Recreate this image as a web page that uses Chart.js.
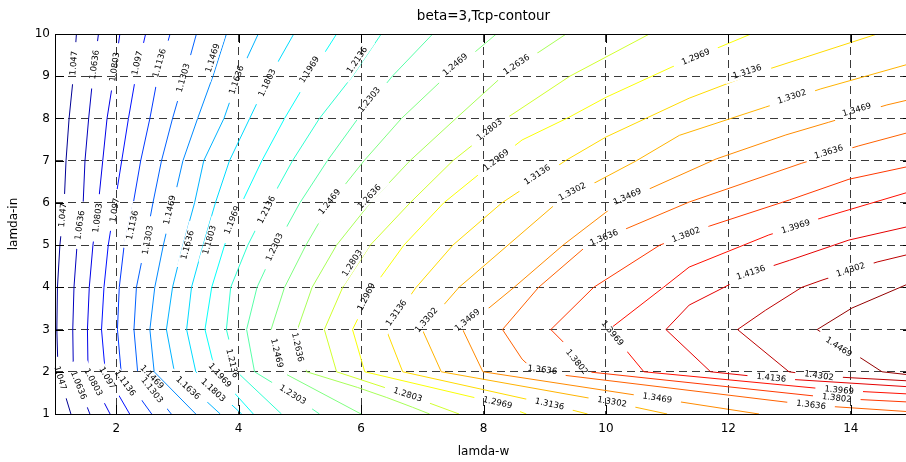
<!DOCTYPE html>
<html>
<head>
<meta charset="utf-8">
<title>beta=3,Tcp-contour</title>
<script src="https://cdn.jsdelivr.net/npm/chart.js@4.4.0/dist/chart.umd.min.js"></script>
<style>
  html, body { margin: 0; padding: 0; background: #fff; overflow: hidden; }
  #wrap { position: absolute; left: 0; top: 0; width: 919px; height: 462px; }
</style>
</head>
<body>
<div id="wrap"><canvas id="tcpChart" width="919" height="462"></canvas></div>
<script>
// ---------------------------------------------------------------
// data (lamda-w, lamda-in)
// ---------------------------------------------------------------
const xTicks = [2, 4, 6, 8, 10, 12, 14];
const yTicks = [1, 2, 3, 4, 5, 6, 7, 8, 9, 10];

const levels = [
  "1.047", "1.0636", "1.0803", "1.097", "1.1136", "1.1303", "1.1469", "1.1636",
  "1.1803", "1.1969", "1.2136", "1.2303", "1.2469", "1.2636", "1.2803", "1.2969",
  "1.3136", "1.3302", "1.3469", "1.3636", "1.3802", "1.3969", "1.4136", "1.4302", "1.4469"
];

// one polyline per level, [lamda-w, lamda-in]
const contourLines = [
  [[1.35,10],[1.30,9],[1.23,8],[1.18,7],[1.15,6],[1.08,5],[1.04,4],[1.03,3],[1.05,2],[1.26,1]],
  [[1.71,10],[1.62,9],[1.55,8],[1.49,7],[1.46,6],[1.36,5],[1.31,4],[1.29,3],[1.30,2],[1.57,1]],
  [[2.06,10],[1.96,9],[1.85,8],[1.78,7],[1.71,6],[1.62,5],[1.56,4],[1.53,3],[1.54,2],[1.90,1]],
  [[2.48,10],[2.32,9],[2.20,8],[2.09,7],[1.98,6],[1.87,5],[1.80,4],[1.76,3],[1.82,2],[2.22,1]],
  [[2.88,10],[2.68,9],[2.55,8],[2.40,7],[2.28,6],[2.13,5],[2.05,4],[2.02,3],[2.08,2],[2.58,1]],
  [[3.31,10],[3.12,9],[2.92,8],[2.74,7],[2.60,6],[2.47,5],[2.33,4],[2.29,3],[2.35,2],[2.90,1]],
  [[3.80,10],[3.58,9],[3.33,8],[3.09,7],[2.93,6],[2.77,5],[2.63,4],[2.55,3],[2.62,2],[3.30,1]],
  [[4.32,10],[4.00,9],[3.76,8],[3.43,7],[3.28,6],[3.09,5],[2.92,4],[2.82,3],[2.95,2],[3.70,1]],
  [[4.90,10],[4.51,9],[4.18,8],[3.85,7],[3.62,6],[3.42,5],[3.23,4],[3.15,3],[3.30,2],[4.05,1]],
  [[5.60,10],[5.16,9],[4.75,8],[4.38,7],[4.05,6],[3.77,5],[3.56,4],[3.45,3],[3.62,2],[4.24,1]],
  [[6.33,10],[5.86,9],[5.32,8],[4.88,7],[4.50,6],[4.15,5],[3.87,4],[3.80,3],[3.97,2],[4.70,1]],
  [[7.17,10],[6.51,9],[5.95,8],[5.45,7],[5.00,6],[4.62,5],[4.30,4],[4.13,3],[4.26,2],[4.88,1.45],[5.32,1]],
  [[8.21,10],[7.39,9],[6.66,8],[6.05,7],[5.50,6],[5.10,5],[4.75,4],[4.53,3],[4.70,2],[6.00,1]],
  [[9.35,10],[8.31,9],[7.55,8],[6.80,7],[6.15,6],[5.60,5],[5.20,4],[4.96,3],[5.11,2],[5.94,1.63],[6.42,1.39],[6.84,1.16],[7.12,1]],
  [[10.71,10],[9.41,9],[8.37,8],[7.50,7],[6.80,6],[6.15,5],[5.70,4],[5.40,3],[5.60,2],[6.76,1.45],[7.60,1]],
  [[12.37,10],[11.08,9.22],[10.0,8.5],[9.40,8.03],[8.63,7.49],[8.20,7],[7.35,6],[6.70,5],[6.20,4],[5.86,3],[6.06,2],[8.23,1.26],[8.70,1]],
  [[14.43,10],[12.30,9],[11.36,8.48],[10.0,7.56],[9.35,7.01],[8.30,6],[7.50,5],[6.90,4],[6.41,3],[6.68,2],[9.08,1.23],[9.70,1]],
  [[15,9.31],[13.51,8.70],[12.61,8.27],[11.20,7.60],[10.50,7.0],[9.20,6],[8.40,5],[7.60,4],[7.00,3],[7.31,2],[10.10,1.28],[11.0,1]],
  [[15,8.46],[14.59,8.32],[13.64,7.91],[12.94,7.61],[11.80,7.04],[10.20,6],[9.30,5],[8.50,4],[7.66,3],[7.99,2],[10.84,1.37],[12.50,1]],
  [[15,7.69],[14.13,7.35],[13.20,6.94],[11.36,6.02],[9.70,5],[8.90,4],[8.31,3],[8.63,2.3],[8.85,2],[13.35,1.21],[15,1.05]],
  [[15,6.88],[13.97,6.56],[13.0,6.07],[11.69,5.45],[10.88,5],[9.80,4],[9.10,3],[9.32,2.68],[9.70,2],[13.77,1.37],[15,1.28]],
  [[15,6.28],[13.56,5.66],[12.66,5.24],[11.36,4.48],[10.94,4],[10.05,3],[10.62,2],[13.81,1.56],[15,1.47]],
  [[15,5.46],[13.97,5.12],[13.0,4.64],[12.37,4.34],[11.93,4.0],[11.36,3.58],[10.98,3],[11.71,2],[12.70,1.85],[15,1.64]],
  [[15,4.80],[14.43,4.60],[13.53,4.17],[13.20,4.0],[12.61,3.46],[12.15,3],[12.99,2],[13.48,1.90],[15,1.78]],
  [[15,4.12],[14.02,3.51],[13.45,3],[14.51,2],[15,1.92]]
];

// where the level numbers sit: [level index, lamda-w, lamda-in]
const labelSpots = [
  [0,1.31,9.31],[1,1.65,9.27],[2,1.98,9.22],[3,2.35,9.31],[4,2.71,9.31],[5,3.10,8.96],
  [6,3.58,9.43],[7,3.97,8.91],[8,4.47,8.84],[9,5.16,9.15],[10,5.94,9.38],[11,6.14,8.44],
  [12,7.54,9.27],[13,8.54,9.27],[14,8.10,7.73],[15,8.21,7.01],[16,8.88,6.66],[17,9.45,6.26],
  [18,10.35,6.14],[19,9.97,5.17],[20,11.31,5.24],[21,13.10,5.43],[22,12.37,4.34],[23,14.0,4.41],
  [15,11.47,9.45],[16,12.31,9.10],[17,13.04,8.51],[18,14.10,8.20],[19,13.64,7.20],
  [0,1.13,5.71],[1,1.41,5.47],[2,1.70,5.64],[3,1.98,5.83],[4,2.27,5.47],[5,2.52,5.12],
  [6,2.88,5.83],[7,3.17,5.0],[8,3.53,5.12],[9,3.90,5.59],[10,4.46,5.83],[11,4.59,4.95],
  [12,5.49,6.02],[13,6.14,6.14],[14,5.86,4.57],[15,6.09,3.77],[16,6.58,3.39],[17,7.07,3.22],
  [18,7.74,3.22],[21,10.10,2.91],[24,13.8,2.58],
  [0,1.08,1.85],[1,1.38,1.68],[2,1.62,1.75],[3,1.85,1.85],[4,2.14,1.73],[5,2.58,1.56],
  [6,2.58,1.87],[7,3.17,1.61],[8,3.58,1.56],[9,3.69,1.91],[10,3.89,2.2],[11,4.88,1.45],
  [12,4.62,2.44],[13,4.96,2.58],[14,6.76,1.45],[15,8.23,1.26],[16,9.08,1.23],[17,10.1,1.28],
  [18,10.84,1.37],[19,8.96,2.04],[20,9.52,2.23],[22,12.70,1.85],[23,13.48,1.90],[21,13.81,1.56],
  [20,13.77,1.37],[19,13.35,1.21]
];

// ---------------------------------------------------------------
// styles
// ---------------------------------------------------------------
const FONT = "'DejaVu Sans', 'Liberation Sans', sans-serif";
const LABEL_FONT = "8.5px " + FONT;

function jet(t) {
  const c = v => Math.round(255 * Math.max(0, Math.min(1, v)));
  return `rgb(${c(1.5 - Math.abs(4 * t - 3))},${c(1.5 - Math.abs(4 * t - 2))},${c(1.5 - Math.abs(4 * t - 1))})`;
}
const levelColor = i => jet((i + 0.5) / levels.length);

// label boxes in pixels, angle taken from the nearest piece of its own line
function labelBoxes(chart) {
  const xs = chart.scales.x, ys = chart.scales.y, ctx = chart.ctx;
  ctx.save();
  ctx.font = LABEL_FONT;
  const out = labelSpots.map(([i, lx, ly]) => {
    const px = xs.getPixelForValue(lx), py = ys.getPixelForValue(ly);
    const pts = contourLines[i].map(([x, y]) => [xs.getPixelForValue(x), ys.getPixelForValue(y)]);
    let best = Infinity, ang = 0;
    for (let k = 0; k < pts.length - 1; k++) {
      const [x1, y1] = pts[k], [x2, y2] = pts[k + 1];
      const dx = x2 - x1, dy = y2 - y1;
      const len2 = dx * dx + dy * dy || 1;
      let t = ((px - x1) * dx + (py - y1) * dy) / len2;
      t = Math.max(0, Math.min(1, t));
      const d = Math.hypot(x1 + t * dx - px, y1 + t * dy - py);
      if (d < best) { best = d; ang = Math.atan2(dy, dx); }
    }
    if (ang > Math.PI / 2) ang -= Math.PI;
    if (ang <= -Math.PI / 2) ang += Math.PI;
    return { level: i, x: px, y: py, a: ang, w: ctx.measureText(levels[i]).width, h: 10, text: levels[i] };
  });
  ctx.restore();
  return out;
}

// gnuplot breaks each line where its own number is written
const contourLabels = {
  id: "contourLabels",
  beforeDatasetsDraw(chart) {
    chart.$boxes = labelBoxes(chart);
  },
  beforeDatasetDraw(chart, args) {
    const ctx = chart.ctx;
    ctx.save();
    ctx.beginPath();
    ctx.rect(0, 0, chart.width, chart.height);
    chart.$boxes.filter(b => b.level === args.index).forEach(b => {
      const c = Math.cos(b.a), s = Math.sin(b.a);
      const hw = b.w / 2 + 9, hh = b.h / 2;
      [[-hw, -hh], [hw, -hh], [hw, hh], [-hw, hh]].forEach(([u, v], k) => {
        const X = b.x + u * c - v * s, Y = b.y + u * s + v * c;
        k ? ctx.lineTo(X, Y) : ctx.moveTo(X, Y);
      });
      ctx.closePath();
    });
    ctx.clip("evenodd");
  },
  afterDatasetDraw(chart) {
    chart.ctx.restore();
  },
  afterDatasetsDraw(chart) {
    const ctx = chart.ctx;
    ctx.save();
    ctx.font = LABEL_FONT;
    ctx.fillStyle = "#000";
    ctx.textAlign = "center";
    ctx.textBaseline = "middle";
    chart.$boxes.forEach(b => {
      ctx.save();
      ctx.translate(b.x, b.y);
      ctx.rotate(b.a);
      ctx.fillText(b.text, 0, 0);
      ctx.restore();
    });
    ctx.restore();
  }
};

// gnuplot style frame with inward tick marks
const frame = {
  id: "frame",
  afterDraw(chart) {
    const { ctx, chartArea: a } = chart;
    const xs = chart.scales.x, ys = chart.scales.y;
    ctx.save();
    ctx.strokeStyle = "#000";
    ctx.lineWidth = 1;
    ctx.beginPath();
    ctx.rect(Math.round(a.left) + 0.5, Math.round(a.top) + 0.5, Math.round(a.right - a.left), Math.round(a.bottom - a.top));
    xTicks.forEach(v => {
      const x = Math.round(xs.getPixelForValue(v)) + 0.5;
      ctx.moveTo(x, a.bottom); ctx.lineTo(x, a.bottom - 9);
      ctx.moveTo(x, a.top); ctx.lineTo(x, a.top + 9);
    });
    yTicks.forEach(v => {
      const y = Math.round(ys.getPixelForValue(v)) + 0.5;
      ctx.moveTo(a.left, y); ctx.lineTo(a.left + 9, y);
      ctx.moveTo(a.right, y); ctx.lineTo(a.right - 9, y);
    });
    ctx.stroke();
    ctx.restore();
  }
};

// ---------------------------------------------------------------
// chart
// ---------------------------------------------------------------
const datasets = contourLines.map((line, i) => ({
  label: levels[i],
  data: line.map(([x, y]) => ({ x, y })),
  showLine: true,
  borderColor: levelColor(i),
  borderWidth: 1,
  pointRadius: 0,
  fill: false,
  tension: 0
}));

const tickFont = { family: FONT, size: 12 };

new Chart(document.getElementById("tcpChart"), {
  type: "scatter",
  data: { datasets },
  options: {
    responsive: false,
    animation: false,
    events: [],
    layout: { padding: { left: 0, right: 7, top: 0, bottom: 0 } },
    plugins: {
      legend: { display: false },
      tooltip: { enabled: false },
      title: {
        display: true,
        fullSize: false,
        text: "beta=3,Tcp-contour",
        color: "#000",
        font: { family: FONT, size: 13.5, weight: "normal" },
        padding: { top: 8.5, bottom: 9.3 }
      }
    },
    scales: {
      x: {
        type: "linear",
        min: 1,
        max: 15,
        afterBuildTicks: s => { s.ticks = xTicks.map(v => ({ value: v })); },
        afterFit: s => { s.height = 48; },
        grid: { color: "#3a3a3a", lineWidth: 1, drawTicks: false },
        border: { display: false, dash: [8, 5] },
        ticks: { color: "#000", font: tickFont, padding: 8, maxRotation: 0 },
        title: { display: true, text: "lamda-w", color: "#000", font: tickFont, padding: { top: 0, bottom: 3 } }
      },
      y: {
        type: "linear",
        min: 1,
        max: 10,
        afterBuildTicks: s => { s.ticks = yTicks.map(v => ({ value: v })); },
        afterFit: s => { s.width = 55; },
        grid: { color: "#3a3a3a", lineWidth: 1, drawTicks: false },
        border: { display: false, dash: [8, 5] },
        ticks: { color: "#000", font: tickFont, padding: 5 },
        title: { display: true, text: "lamda-in", color: "#000", font: tickFont, padding: { top: 7, bottom: 0 } }
      }
    }
  },
  plugins: [contourLabels, frame]
});
</script>
</body>
</html>
